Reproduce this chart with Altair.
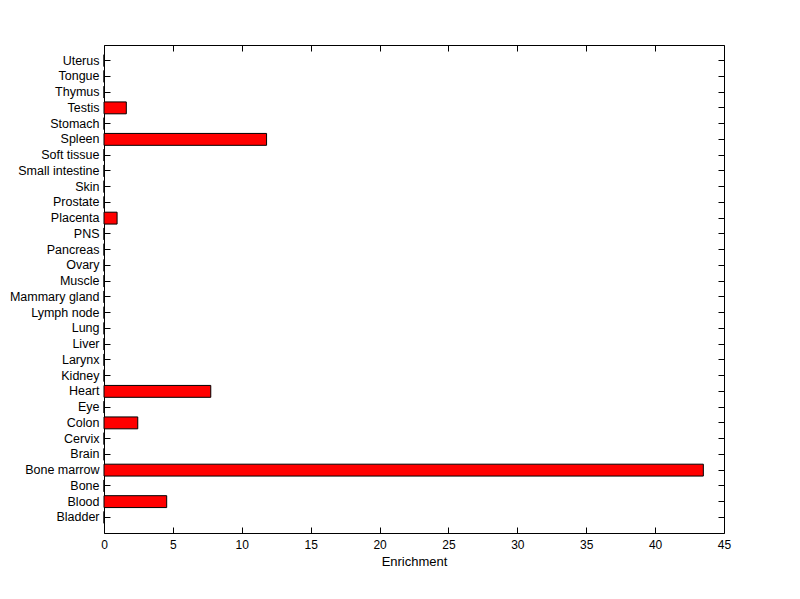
import altair as alt
import pandas as pd

tissues = ["Bladder", "Blood", "Bone", "Bone marrow", "Brain", "Cervix", "Colon", "Eye",
           "Heart", "Kidney", "Larynx", "Liver", "Lung", "Lymph node", "Mammary gland",
           "Muscle", "Ovary", "Pancreas", "PNS", "Placenta", "Prostate", "Skin",
           "Small intestine", "Soft tissue", "Spleen", "Stomach", "Testis", "Thymus",
           "Tongue", "Uterus"]
enrichment = [0, 4.55, 0, 43.5, 0, 0, 2.45, 0,
              7.75, 0, 0, 0, 0, 0, 0,
              0, 0, 0, 0, 0.95, 0, 0,
              0, 0, 11.8, 0, 1.62, 0,
              0, 0]
x_ticks = [0, 5, 10, 15, 20, 25, 30, 35, 40, 45]

df = pd.DataFrame({"tissue": tissues, "value": enrichment})
order = list(reversed(tissues))

FONT = "Liberation Sans"
yscale = alt.Scale(domain=order, paddingInner=0.245, paddingOuter=0.615)
xscale = alt.Scale(domain=[0, 45], nice=False, zero=True)

bars = alt.Chart(df).mark_bar(color="#FF0000", stroke="black", strokeWidth=1).encode(
    x=alt.X("value:Q", scale=xscale,
            axis=alt.Axis(orient="bottom", values=x_ticks, offset=-6, tickSize=6,
                          domain=False, grid=False, labelPadding=6, labelFlush=False,
                          tickColor="black", labelColor="black", labelFont=FONT,
                          labelFontSize=12, title="Enrichment", titleFont=FONT,
                          titleFontSize=13, titleFontWeight="normal", titleColor="black",
                          titlePadding=5)),
    y=alt.Y("tissue:N", sort=order, scale=yscale,
            axis=alt.Axis(orient="left", offset=-6, tickSize=6, domain=False, grid=False,
                          labelPadding=5, tickColor="black", labelColor="black",
                          labelFont=FONT, labelFontSize=12.5, title=None)),
)

frame_ticks = alt.Chart(df).mark_bar(opacity=0).encode(
    x=alt.X("value:Q", scale=xscale,
            axis=alt.Axis(orient="top", values=x_ticks, offset=-6, tickSize=6,
                          domain=False, grid=False, labels=False, tickColor="black",
                          title=None)),
    y=alt.Y("tissue:N", sort=order, scale=yscale,
            axis=alt.Axis(orient="right", offset=-6, tickSize=6, domain=False, grid=False,
                          labels=False, tickColor="black", title=None)),
)

chart = alt.layer(bars, frame_ticks).resolve_axis(
    x="independent", y="independent"
).properties(
    width=620, height=488,
    autosize=alt.AutoSizeParams(type="none"),
    padding={"left": 96, "top": 37, "right": 60, "bottom": 50},
    background="white",
).configure_view(stroke="black", strokeWidth=1)

chart.save("out.html", embed_options={"renderer": "svg", "actions": False})
